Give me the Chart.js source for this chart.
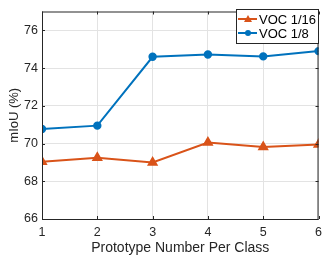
<!DOCTYPE html>
<html>
<head>
<meta charset="utf-8">
<script src="https://cdn.jsdelivr.net/npm/chart.js@4.4.1/dist/chart.umd.min.js"></script>
<style>
  html, body { margin: 0; padding: 0; background: #fff; }
  #wrap { width: 328px; height: 259px; }
</style>
</head>
<body>
<div id="wrap"><canvas id="myChart" width="328" height="259"></canvas></div>
<script>
const protoNums = [1, 2, 3, 4, 5, 6];
const voc16 = [69.03, 69.25, 69.0, 70.05, 69.82, 69.95];
const voc8 = [70.77, 70.95, 74.6, 74.72, 74.62, 74.9];
const yTicks = [66, 68, 70, 72, 74, 76];

const orange = '#D95319';
const blue = '#0072BD';
const font = 'Liberation Sans, Arial, Helvetica, sans-serif';

// box around the plot plus a legend inside the top right corner
const boxAndLegend = {
    id: 'boxAndLegend',
    afterDraw(chart) {
        const c = chart.ctx;
        const a = chart.chartArea;
        c.save();
        c.strokeStyle = '#262626';
        c.lineWidth = 1;
        c.strokeRect(a.left + 0.5, a.top + 0.5, a.right - a.left - 1, a.bottom - a.top);

        // inward tick marks
        const xs = chart.scales.x, ys = chart.scales.y;
        c.beginPath();
        protoNums.forEach(v => {
            const px = Math.round(xs.getPixelForValue(v)) + 0.5;
            c.moveTo(px, a.bottom); c.lineTo(px, a.bottom - 3);
            c.moveTo(px, a.top); c.lineTo(px, a.top + 3);
        });
        yTicks.forEach(v => {
            const py = Math.round(ys.getPixelForValue(v)) + 0.5;
            c.moveTo(a.left, py); c.lineTo(a.left + 3, py);
            c.moveTo(a.right, py); c.lineTo(a.right - 3, py);
        });
        c.stroke();

        // legend
        const lx = 236, ly = 9, lw = 82, lh = 34;
        c.fillStyle = '#fff';
        c.fillRect(lx, ly, lw, lh);
        c.strokeStyle = '#262626';
        c.strokeRect(lx + 0.5, ly + 0.5, lw, lh);
        const items = [
            { label: 'VOC 1/16', color: orange, marker: 'triangle', y: ly + 10 },
            { label: 'VOC 1/8', color: blue, marker: 'circle', y: ly + 24 }
        ];
        items.forEach(it => {
            c.strokeStyle = it.color;
            c.fillStyle = it.color;
            c.lineWidth = 2;
            c.beginPath();
            c.moveTo(lx + 2, it.y); c.lineTo(lx + 21, it.y);
            c.stroke();
            c.beginPath();
            if (it.marker === 'circle') {
                c.arc(lx + 12, it.y, 3, 0, Math.PI * 2);
            } else {
                c.moveTo(lx + 12, it.y - 4);
                c.lineTo(lx + 16, it.y + 3);
                c.lineTo(lx + 8, it.y + 3);
                c.closePath();
            }
            c.fill();
            c.fillStyle = '#000';
            c.font = '13px ' + font;
            c.textBaseline = 'middle';
            c.fillText(it.label, lx + 23, it.y + 1);
        });
        c.restore();
    }
};

const ctx = document.getElementById('myChart');
new Chart(ctx, {
    type: 'line',
    data: {
        datasets: [{
            label: 'VOC 1/16',
            data: protoNums.map((x, i) => ({ x: x, y: voc16[i] })),
            borderColor: orange,
            backgroundColor: orange,
            borderWidth: 2,
            pointStyle: 'triangle',
            pointRadius: 4.5,
            pointHoverRadius: 4.5,
            tension: 0
        }, {
            label: 'VOC 1/8',
            data: protoNums.map((x, i) => ({ x: x, y: voc8[i] })),
            borderColor: blue,
            backgroundColor: blue,
            borderWidth: 2,
            pointStyle: 'circle',
            pointRadius: 3.2,
            pointHoverRadius: 3.2,
            tension: 0
        }]
    },
    options: {
        responsive: false,
        animation: false,
        layout: { padding: { top: 4, right: 5, left: 0, bottom: 0 } },
        plugins: { legend: { display: false }, tooltip: { enabled: false } },
        scales: {
            x: {
                type: 'linear',
                min: 1, max: 6,
                afterBuildTicks: s => { s.ticks = protoNums.map(v => ({ value: v })); },
                afterFit: s => { s.height = 40; },
                grid: { color: '#e3e3e3', drawTicks: false },
                border: { display: false },
                ticks: { color: '#262626', font: { family: font, size: 12.5 }, padding: 6, maxRotation: 0 },
                title: { display: true, text: 'Prototype Number Per Class', color: '#262626',
                    font: { family: font, size: 14 }, padding: { top: 0, bottom: 2 } }
            },
            y: {
                min: 66, max: 77,
                afterBuildTicks: s => { s.ticks = yTicks.map(v => ({ value: v })); },
                afterFit: s => { s.width = 42; },
                grid: { color: '#e3e3e3', drawTicks: false },
                border: { display: false },
                ticks: { color: '#262626', font: { family: font, size: 12.5 }, padding: 4 },
                title: { display: true, text: 'mIoU (%)', color: '#262626',
                    font: { family: font, size: 13 }, padding: { top: 7, bottom: 0 } }
            }
        }
    },
    plugins: [boxAndLegend]
});
</script>
</body>
</html>
